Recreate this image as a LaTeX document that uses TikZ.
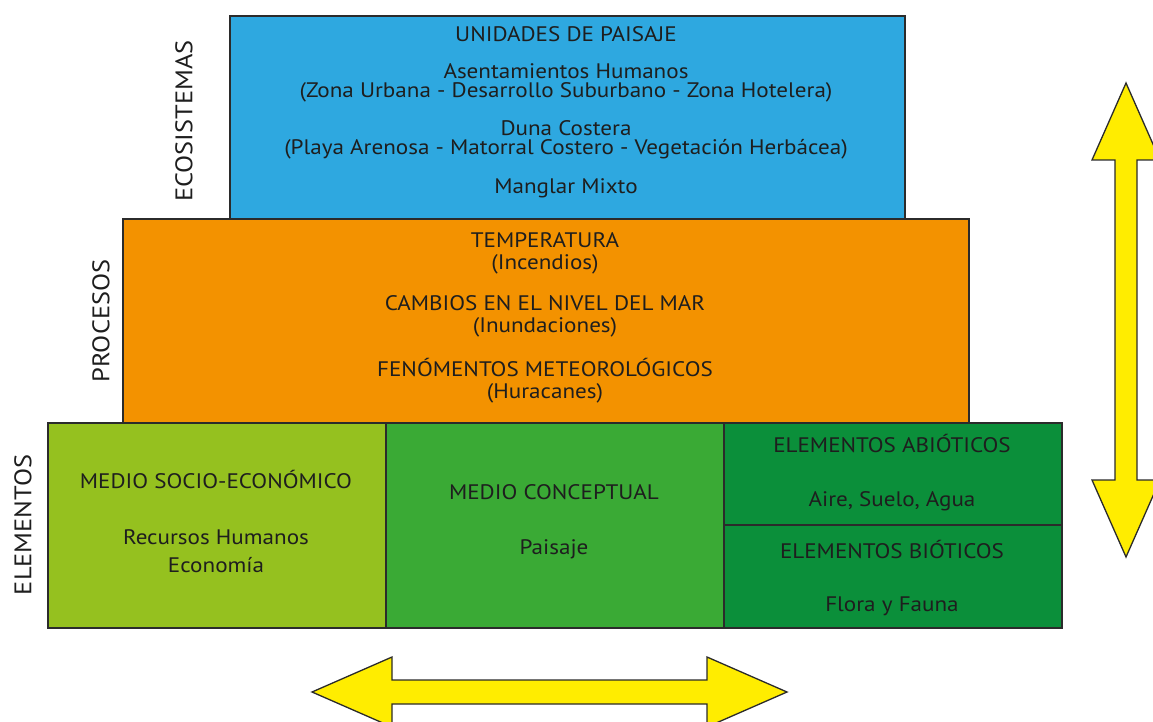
\documentclass[tikz,border=0pt]{standalone}
\usepackage{fontspec}
\setmainfont{PT Sans}[FakeStretch=1.1]
\definecolor{azul}{HTML}{2EA8E0}
\definecolor{naranja}{HTML}{F39200}
\definecolor{verdeclaro}{HTML}{95C11F}
\definecolor{verdemedio}{HTML}{3AAA35}
\definecolor{verdeoscuro}{HTML}{0B8F3A}
\definecolor{amarillo}{HTML}{FFED00}
\definecolor{borde}{HTML}{2B2B2B}
\definecolor{texto}{HTML}{1E1E1E}

\begin{document}
\begin{tikzpicture}[x=1pt, y=-1pt,
    capa/.style={draw=borde, line width=1.6pt, anchor=north west, inner sep=0pt},
    txt/.style={font=\fontsize{21}{19}\selectfont, text=texto, align=center, inner sep=0pt},
    eje/.style={font=\fontsize{24}{24}\selectfont, text=texto, rotate=90, inner sep=0pt},
    flecha/.style={fill=amarillo, draw=borde, line width=1.3pt, line join=miter}]
    \useasboundingbox (0,0) rectangle (1153,722);
    \clip (0,0) rectangle (1153,722);

    % capas
    \node (eco) [capa, fill=azul, minimum width=675pt, minimum height=203pt] at (229,15) {};
    \node (pro) [capa, fill=naranja, minimum width=846pt, minimum height=204pt] at (122,218) {};
    \node (soc) [capa, fill=verdeclaro, minimum width=338pt, minimum height=205pt] at (47,422) {};
    \node (con) [capa, fill=verdemedio, minimum width=338pt, minimum height=205pt] at (385,422) {};
    \node (abi) [capa, fill=verdeoscuro, minimum width=338pt, minimum height=102pt] at (723,422) {};
    \node (bio) [capa, fill=verdeoscuro, minimum width=338pt, minimum height=103pt] at (723,524) {};

    % ejes
    \node (ecoeje) [eje] at (184,121) {ECOSISTEMAS};
    \node (proeje) [eje] at (101,321) {PROCESOS};
    \node (eleje) [eje] at (23,525) {ELEMENTOS};

    % ecosistemas
    \node (unid) [txt] at (566,34) {UNIDADES DE PAISAJE};
    \node (asen) [txt] at (566,83) {Asentamientos Humanos\\(Zona Urbana - Desarrollo Suburbano - Zona Hotelera)};
    \node (duna) [txt] at (566,140) {Duna Costera\\(Playa Arenosa - Matorral Costero - Vegetación Herbácea)};
    \node (mang) [txt] at (566,188) {Manglar Mixto};

    % procesos
    \node (temp) [txt] at (545,253) {TEMPERATURA\\[3pt](Incendios)};
    \node (mar) [txt] at (545,316) {CAMBIOS EN EL NIVEL DEL MAR\\[3pt](Inundaciones)};
    \node (fen) [txt] at (545,381) {FENÓMENTOS METEOROLÓGICOS\\[3pt](Huracanes)};

    % elementos
    \node (socT) [txt] at (216,479) {MEDIO SOCIO-ECONÓMICO};
    \node (socR) [txt] at (216,551) {Recursos Humanos\\[9pt]Economía};
    \node (conT) [txt] at (554,492) {MEDIO CONCEPTUAL};
    \node (conR) [txt] at (554,549) {Paisaje};
    \node (abiT) [txt] at (892,443) {ELEMENTOS ABIÓTICOS};
    \node (abiR) [txt] at (892,501) {Aire, Suelo, Agua};
    \node (bioT) [txt] at (892,549) {ELEMENTOS BIÓTICOS};
    \node (bioR) [txt] at (892,606) {Flora y Fauna};

    % flechas
    \draw[flecha] (1126,83) -- (1160,160) -- (1137,160) -- (1137,480) -- (1160,480)
        -- (1126,557) -- (1092,480) -- (1115,480) -- (1115,160) -- (1092,160) -- cycle;
    \draw[flecha] (312,692) -- (392,657) -- (392,680) -- (707,680) -- (707,657)
        -- (787,692) -- (707,727) -- (707,704) -- (392,704) -- (392,727) -- cycle;
\end{tikzpicture}
\end{document}
